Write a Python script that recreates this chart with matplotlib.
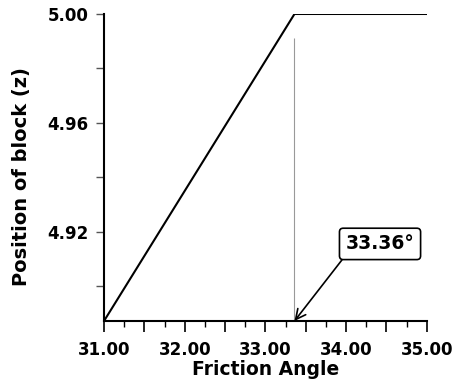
import matplotlib
matplotlib.use("Agg")
import matplotlib.pyplot as plt
from matplotlib.ticker import MultipleLocator, FixedLocator, FuncFormatter

# data
friction = [31.0, 33.36, 35.0]
position = [4.8873, 5.0, 5.0]
critical_angle = 33.36
guide_top = 4.991
label_pos = (34.42, 4.9156)
y_major = [4.92, 4.96, 5.00]
y_minor = [4.90, 4.94, 4.98]

fig = plt.figure(figsize=(4.57, 3.82), dpi=100)
ax = fig.add_axes([0.2276, 0.1597, 0.7064, 0.8037])

ax.plot(friction, position, color="black", linewidth=1.5, solid_joinstyle="miter")
ax.vlines(critical_angle, position[0], guide_top, color="#999999", linewidth=0.8)

ax.annotate(f"{critical_angle:.2f}°", xy=(critical_angle, position[0]), xytext=label_pos,
            ha="center", va="center", fontsize=13.5, fontweight="bold",
            bbox=dict(boxstyle="round,pad=0.33,rounding_size=0.2", fc="white", ec="black", lw=1.2),
            arrowprops=dict(arrowstyle="->", color="black", lw=1.2, relpos=(0.02, 0.0),
                            shrinkA=0, shrinkB=0, mutation_scale=18))

ax.set_xlim(friction[0], friction[-1])
ax.set_ylim(position[0], 5.0)

ax.xaxis.set_major_locator(MultipleLocator(0.5))
ax.xaxis.set_minor_locator(MultipleLocator(0.25))
ax.xaxis.set_major_formatter(FuncFormatter(lambda v, p: f"{v:.2f}" if abs(v - round(v)) < 1e-6 else ""))
ax.yaxis.set_major_locator(FixedLocator(y_major))
ax.yaxis.set_minor_locator(FixedLocator(y_minor))
ax.yaxis.set_major_formatter(FuncFormatter(lambda v, p: f"{v:.2f}"))

ax.spines[["top", "right"]].set_visible(False)
ax.spines[["left", "bottom"]].set_linewidth(1.5)
ax.tick_params(axis="x", which="major", length=8, width=1.2, direction="out", pad=6.5)
ax.tick_params(axis="x", which="minor", length=4, width=1.0, direction="out")
ax.tick_params(axis="y", which="both", length=6, width=1.0, color="#555555", pad=5)

for lbl in ax.get_xticklabels() + ax.get_yticklabels():
    lbl.set_fontweight("bold")
    lbl.set_fontsize(12)

ax.set_xlabel("Friction Angle", fontsize=13.5, fontweight="bold", labelpad=0.5)
ax.set_ylabel("Position of block (z)", fontsize=14, fontweight="bold")
ax.yaxis.set_label_coords(-0.225, 0.47)

plt.savefig("out.png", dpi=100, facecolor="white")
plt.close()
